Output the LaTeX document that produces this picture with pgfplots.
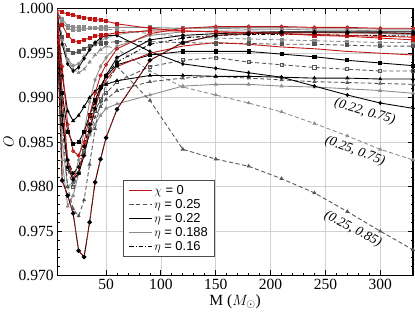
\documentclass[border=0pt]{standalone}
\usepackage{pgfplots}
\pgfplotsset{compat=1.18}
\usepackage{pgfplotstable}
\usepackage{fontspec}
\setmainfont{Liberation Serif}
\newfontfamily\legfont{Liberation Sans}
\definecolor{cred}{RGB}{190,20,20}
\definecolor{cgray}{RGB}{140,140,140}
\definecolor{cdark}{RGB}{85,85,85}
\pgfplotstableread{
x R1 R2 R3 R4 R5 B1 B2 B3 B4 G1 G2 G3 G4 D1 D2 D3 D4 D5 D6 K1
5 0.9999 0.9998 0.9995 0.9993 0.9990 0.9995 0.9990 0.9993 0.9990 0.9990 0.9998 0.9999 0.9990 0.9990 0.9997 0.9992 0.9999 0.9993 0.9998 0.9990
10 0.9996 0.9982 0.9935 0.9900 0.9807 0.9960 0.9905 0.9925 0.9880 0.9830 0.9965 0.9985 0.9850 0.9870 0.9965 0.9880 0.9988 0.9900 0.9968 0.9870
15 0.9994 0.9970 0.9870 0.9830 0.9790 0.9938 0.9862 0.9885 0.9822 0.9778 0.9943 0.9978 0.9800 0.9800 0.9942 0.9820 0.9981 0.9830 0.9954 0.9830
20 0.9993 0.9964 0.9840 0.9810 0.9770 0.9930 0.9848 0.9874 0.9808 0.9790 0.9936 0.9976 0.9805 0.9775 0.9932 0.9800 0.9979 0.9805 0.9950 0.9815
25 0.9991 0.9963 0.9835 0.9818 0.9728 0.9934 0.9850 0.9880 0.9815 0.9815 0.9938 0.9976 0.9830 0.9767 0.9928 0.9815 0.9979 0.9815 0.9952 0.9822
30 0.9990 0.9965 0.9850 0.9840 0.9721 0.9944 0.9862 0.9890 0.9835 0.9840 0.9946 0.9977 0.9862 0.9785 0.9932 0.9840 0.9979 0.9838 0.9955 0.9845
35 0.9989 0.9967 0.9880 0.9865 0.9760 0.9954 0.9880 0.9900 0.9862 0.9858 0.9954 0.9978 0.9895 0.9825 0.9940 0.9865 0.9978 0.9860 0.9958 0.9870
40 0.9988 0.9969 0.9905 0.9890 0.9805 0.9962 0.9897 0.9907 0.9888 0.9870 0.9960 0.9978 0.9920 0.9865 0.9948 0.9885 0.9978 0.9878 0.9960 0.9895
45 0.9987 0.9970 0.9925 0.9908 0.9831 0.9967 0.9912 0.9912 0.9910 0.9880 0.9964 0.9979 0.9935 0.9895 0.9954 0.9898 0.9977 0.9890 0.9961 0.9912
50 0.9986 0.9971 0.9937 0.9920 0.9855 0.9970 0.9924 0.9915 0.9925 0.9888 0.9967 0.9979 0.9945 0.9915 0.9958 0.9905 0.9977 0.9898 0.9962 0.9925
60 0.9983 0.9973 0.9955 0.9935 0.9887 0.9970 0.9937 0.9919 0.9945 0.9893 0.9971 0.9979 0.9958 0.9935 0.9955 0.9918 0.9976 0.9908 0.9963 0.9940
90 0.9978 0.9975 0.9972 0.9950 0.9942 0.9952 0.9948 0.9925 0.9965 0.9903 0.9976 0.9979 0.9970 0.9897 0.9930 0.9935 0.9972 0.9918 0.9963 0.9960
120 0.9975 0.9975 0.9978 0.9958 0.9962 0.9938 0.9952 0.9925 0.9970 0.9913 0.9978 0.9978 0.9974 0.9842 0.9912 0.9942 0.9969 0.9922 0.9962 0.9967
150 0.9974 0.9974 0.9980 0.9962 0.9970 0.9933 0.9952 0.9924 0.9972 0.9915 0.9979 0.9978 0.9975 0.9831 0.9903 0.9945 0.9967 0.9924 0.9961 0.9970
180 0.9973 0.9973 0.9980 0.9960 0.9972 0.9928 0.9952 0.9924 0.9973 0.9915 0.9979 0.9977 0.9975 0.9823 0.9894 0.9940 0.9966 0.9922 0.9961 0.9971
210 0.9972 0.9972 0.9980 0.9957 0.9973 0.9923 0.9949 0.9923 0.9974 0.9913 0.9979 0.9977 0.9974 0.9809 0.9884 0.9937 0.9965 0.9920 0.9960 0.9971
240 0.9971 0.9970 0.9979 0.9955 0.9973 0.9913 0.9946 0.9922 0.9974 0.9912 0.9978 0.9976 0.9974 0.9793 0.9871 0.9934 0.9964 0.9918 0.9960 0.9971
270 0.9970 0.9969 0.9979 0.9952 0.9973 0.9903 0.9942 0.9922 0.9974 0.9910 0.9978 0.9976 0.9973 0.9772 0.9857 0.9932 0.9963 0.9917 0.9959 0.9970
300 0.9969 0.9967 0.9978 0.9950 0.9973 0.9894 0.9939 0.9921 0.9974 0.9908 0.9977 0.9975 0.9972 0.9750 0.9842 0.9930 0.9962 0.9916 0.9958 0.9970
330 0.9968 0.9965 0.9978 0.9948 0.9972 0.9888 0.9936 0.9921 0.9974 0.9905 0.9977 0.9975 0.9971 0.9729 0.9830 0.9930 0.9962 0.9915 0.9958 0.9969
}\data
\begin{document}
\begin{tikzpicture}
\begin{axis}[
  scale only axis, width=344pt, height=258pt,
  xmin=5.5, xmax=330, ymin=0.970, ymax=1.000,
  xtick={50,100,150,200,250,300},
  ytick={0.970,0.975,0.980,0.985,0.990,0.995,1.000},
  minor x tick num=4, minor y tick num=4,
  tick align=inside,
  major tick length=5pt, minor tick length=2.5pt,
  tick style={black, line width=0.8pt},
  grid=major, major grid style={black!18, line width=0.6pt},
  axis line style={line width=1.3pt},
  /pgf/number format/assume math mode=true,
  yticklabel style={/pgf/number format/.cd, fixed, fixed zerofill, precision=3},
  tick label style={font=\fontsize{15}{17}\selectfont},
  label style={font=\fontsize{15}{17}\selectfont},
  xlabel={M ($M_\odot$)},
  ylabel={$O$},
  xlabel style={yshift=2pt},
  ylabel style={yshift=-2pt},
  legend cell align=left,
  legend image code/.code={\draw[#1] (0pt,0pt) -- (22pt,0pt);},
  legend style={at={(0.186,0.357)}, anchor=north west, draw=black!70, line width=0.7pt,
    font=\legfont\fontsize{12.5}{14}\selectfont, row sep=0pt, inner xsep=5pt, inner ysep=3pt,
    nodes={inner sep=1.6pt}},
  every axis plot/.append style={line width=0.85pt, mark size=1.5pt},
]
% gray solid (eta = 0.188)
\addplot[cgray, mark=triangle*, forget plot] table[x=x,y=G1]{\data};
\addplot[cgray, mark=*, forget plot] table[x=x,y=G2]{\data};
\addplot[cgray, mark=square*, forget plot] table[x=x,y=G3]{\data};
\addplot[cgray, mark=diamond*, forget plot] table[x=x,y=G4]{\data};
% dashed (eta = 0.25)
\addplot[cdark, dash pattern=on 4pt off 2.5pt, mark=triangle*, mark options={solid}, forget plot] table[x=x,y=D1]{\data};
\addplot[cgray, dash pattern=on 4pt off 2.5pt, mark=triangle*, mark options={solid}, forget plot] table[x=x,y=D2]{\data};
\addplot[cdark, dash pattern=on 4pt off 2.5pt, mark=square, mark options={solid}, forget plot] table[x=x,y=D3]{\data};
\addplot[cgray, dash pattern=on 4pt off 2.5pt, mark=square*, mark options={solid}, forget plot] table[x=x,y=D4]{\data};
\addplot[cdark, dash pattern=on 4pt off 2.5pt, mark=triangle, mark options={solid}, forget plot] table[x=x,y=D5]{\data};
\addplot[cdark, dash pattern=on 4pt off 2.5pt, mark=square*, mark options={solid}, forget plot] table[x=x,y=D6]{\data};
% black (eta = 0.22) and dash-dot (eta = 0.16)
\addplot[black, mark=diamond*, forget plot] table[x=x,y=B1]{\data};
\addplot[black, mark=square*, forget plot] table[x=x,y=B2]{\data};
\addplot[black, mark=triangle*, forget plot] table[x=x,y=B3]{\data};
\addplot[black, mark=*, forget plot] table[x=x,y=B4]{\data};
\addplot[black, dash pattern=on 4pt off 2pt on 1pt off 2pt, mark=*, mark options={solid}, forget plot] table[x=x,y=K1]{\data};
% red (chi = 0)
\addplot[cred, mark=square*, forget plot] table[x=x,y=R1]{\data};
\addplot[cred, mark=square*, forget plot] table[x=x,y=R2]{\data};
\addplot[cred, mark=o, forget plot] table[x=x,y=R3]{\data};
\addplot[cred, mark=none, forget plot] table[x=x,y=R4]{\data};
\addplot[black, mark=*, mark size=1.8pt, forget plot] table[x=x,y=R5]{\data};
\addplot[cred, dash pattern=on 3pt off 2pt, mark=none, line width=0.8pt, forget plot] table[x=x,y=R5]{\data};
% legend
\addlegendimage{cred, line width=0.9pt}
\addlegendentry{$\chi$ = 0}
\addlegendimage{cdark, dash pattern=on 4pt off 2.5pt, line width=0.9pt}
\addlegendentry{$\eta$ = 0.25}
\addlegendimage{black, line width=0.9pt}
\addlegendentry{$\eta$ = 0.22}
\addlegendimage{cgray, line width=0.9pt}
\addlegendentry{$\eta$ = 0.188}
\addlegendimage{black, dash pattern=on 4pt off 2pt on 1pt off 2pt, line width=0.9pt}
\addlegendentry{$\eta$ = 0.16}
% annotations
\node[rotate=-17, font=\itshape\fontsize{13}{15}\selectfont] at (axis cs:286,0.9884) {(0.22, 0.75)};
\node[rotate=-20, font=\itshape\fontsize{13}{15}\selectfont] at (axis cs:277,0.9840) {(0.25, 0.75)};
\node[rotate=-28, font=\itshape\fontsize{13}{15}\selectfont] at (axis cs:275,0.9752) {(0.25, 0.85)};
\end{axis}
\end{tikzpicture}
\end{document}
